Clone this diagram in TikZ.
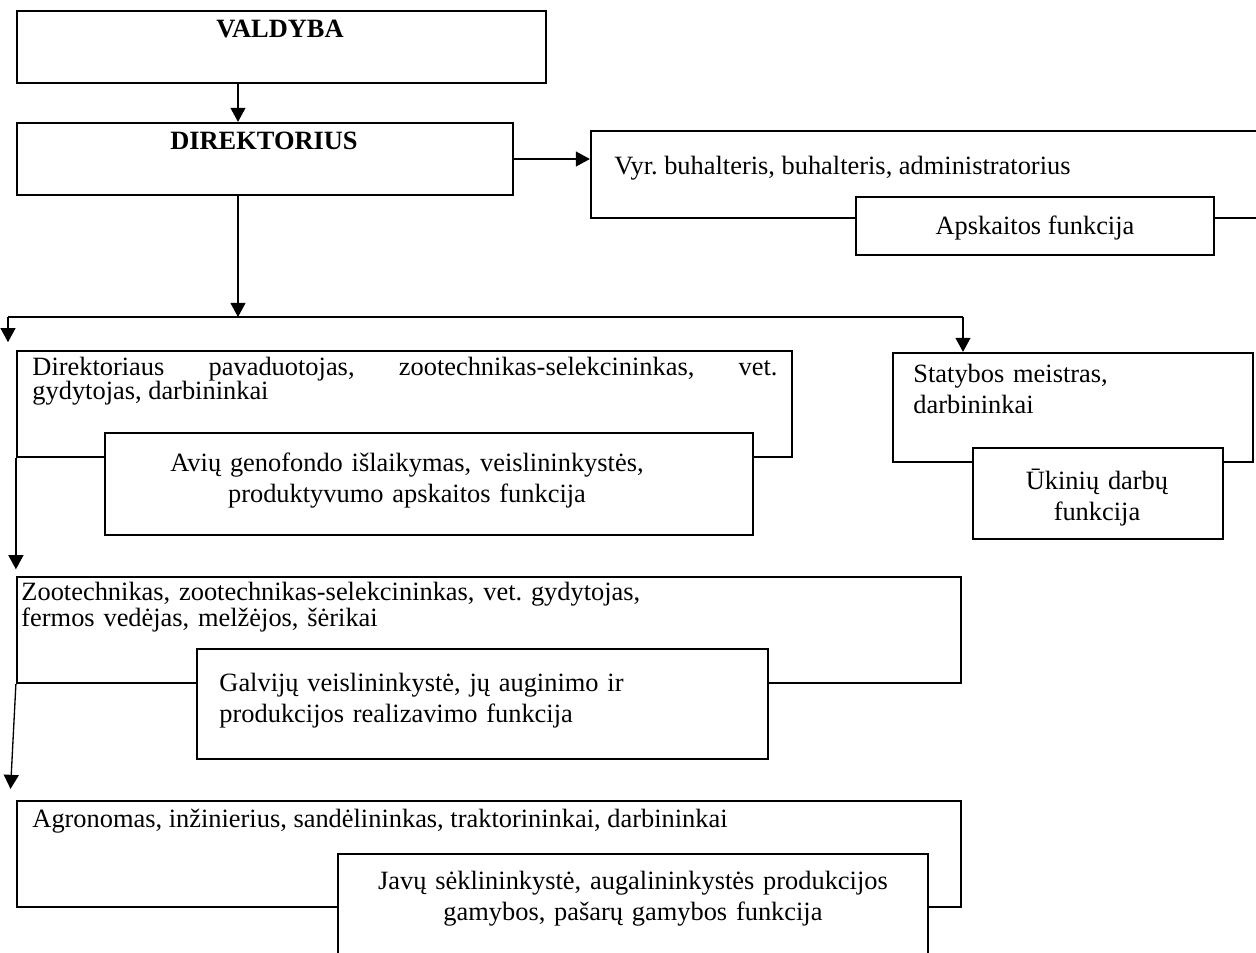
\documentclass[tikz,border=0pt]{standalone}
\usepackage{fontspec}
\setmainfont{Liberation Serif}
\usetikzlibrary{arrows.meta,fit}
\newcommand\tightlines{\fontsize{12}{11}\selectfont}

\begin{document}
\frenchspacing
\begin{tikzpicture}[x=0.4545pt,y=-0.4545pt,
    >={Triangle[length=6.4pt,width=6.8pt]},
    conn/.style={line width=0.6pt},
    box/.style={draw,line width=1pt,inner sep=0pt},
    inbox/.style={box,fill=white},
    txt/.style={inner sep=0pt,font=\fontsize{12}{14.5}\selectfont},
    tight/.style={inner sep=0pt,font=\tightlines}]
  \clip (0,0) rectangle (1256,953);

  % outer boxes
  \node[box,fit={(17,11) (546,83)}]      (valdyba) {};
  \node[box,fit={(17,123) (513,195)}]    (direkt)  {};
  \node[box,fit={(591,131) (1275,218)}]  (buh)     {};
  \node[box,fit={(17,351) (792,457)}]    (dirpav)  {};
  \node[box,fit={(893,353) (1253,462)}]  (statyb)  {};
  \node[box,fit={(17,577) (961,683)}]    (zoot)    {};
  \node[box,fit={(17,801) (961,907)}]    (agro)    {};

  % connectors
  \coordinate (trunk) at (238,317);
  \coordinate (busL)  at (8,317);
  \coordinate (busR)  at (963,317);
  \draw[conn,->] (valdyba.south -| trunk) -- (direkt.north -| trunk);
  \draw[conn,->] (direkt.east) -- (direkt.east -| buh.west);
  \draw[conn,->] (direkt.south -| trunk) -- (trunk);
  \draw[conn] (busL) -- (busR);
  \draw[conn,->,shorten >=3.5pt] (busL) -- (busL |- dirpav.north);
  \draw[conn,->] (busR) -- (busR |- statyb.north);
  \draw[conn,->,shorten >=3pt] (dirpav.south west) -- (dirpav.south west |- zoot.north);
  \draw[conn,->,shorten >=5pt] (zoot.south west) -- ([xshift=-2.7pt]agro.north west);

  % function boxes
  \node[inbox,fit={(856,197) (1214,255)}] (apsk)  {};
  \node[inbox,fit={(105,433) (753,535)}]  (avi)   {};
  \node[inbox,fit={(973,448) (1223,539)}] (ukin)  {};
  \node[inbox,fit={(197,649) (768,759)}]  (galv)  {};
  \node[inbox,fit={(338,854) (928,975)}]  (javu)  {};

  % texts
  \node[txt,anchor=base] (tValdyba) at (280,37) {\bfseries VALDYBA};
  \node[txt,anchor=base] (tDirekt) at (264,149) {\bfseries DIREKTORIUS};
  \node[txt,anchor=base west] (tBuh) at (614,174)
    {Vyr. buhalteris, buhalteris, administratorius};
  \node[txt,anchor=base] (tApsk) at (1035,234) {Apskaitos funkcija};
  \node[tight,anchor=base west,text width=338.6pt,align=justify] (tDirpav) at (32,375)
    {Direktoriaus pavaduotojas, zootechnikas-selekcininkas, vet.\linebreak
     gydytojas, darbininkai};
  \node[txt,anchor=base,text width=300pt,align=center] (tAvi) at (407,471)
    {Avių genofondo išlaikymas, veislininkystės,\\ produktyvumo apskaitos funkcija};
  \node[txt,anchor=base west,text width=150pt,align=left] (tStat) at (913,382)
    {Statybos meistras,\\ darbininkai};
  \node[txt,anchor=base,text width=100pt,align=center] (tUkin) at (1097,489)
    {Ūkinių darbų\\ funkcija};
  \node[tight,anchor=base west,text width=420pt,align=left] (tZoot) at (21,600)
    {Zootechnikas, zootechnikas-selekcininkas, vet. gydytojas,\\
     fermos vedėjas, melžėjos, šėrikai};
  \node[txt,anchor=base west,text width=250pt,align=left] (tGalv) at (219,691)
    {Galvijų veislininkystė, jų auginimo ir\\ produkcijos realizavimo funkcija};
  \node[txt,anchor=base west] (tAgro) at (32,827)
    {Agronomas, inžinierius, sandėlininkas, traktorininkai, darbininkai};
  \node[txt,anchor=base,text width=260pt,align=center] (tJavu) at (633,889)
    {Javų sėklininkystė, augalininkystės produkcijos\\ gamybos, pašarų gamybos funkcija};
\end{tikzpicture}
\end{document}
